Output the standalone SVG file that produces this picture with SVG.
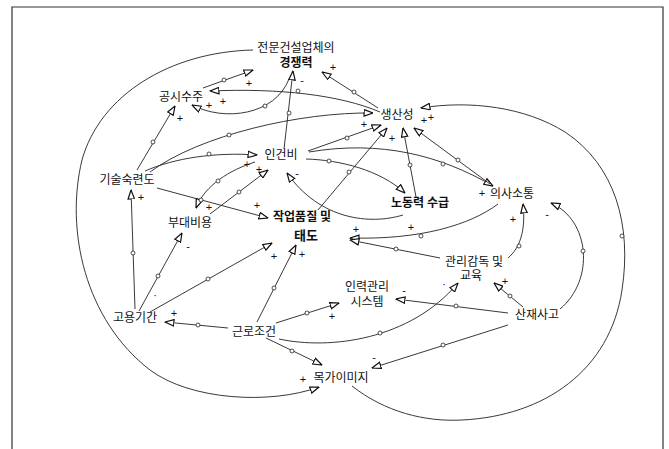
<svg xmlns="http://www.w3.org/2000/svg" width="669" height="449" viewBox="0 0 669 449">
<defs>
<style>
.n{font-family:"Noto Sans CJK KR",sans-serif;font-size:12px;fill:#111;text-anchor:middle}
.b{font-weight:bold}
.c path{fill:none;stroke:#222;stroke-width:0.9;marker-end:url(#a)}
.v{fill:#fff;stroke:#222;stroke-width:0.8}
.s{font-family:"Liberation Sans",sans-serif;font-size:11px;fill:#111;text-anchor:middle}
</style>
<marker id="a" viewBox="0 0 10 8" refX="9.5" refY="4" markerWidth="10" markerHeight="8" markerUnits="userSpaceOnUse" orient="auto">
<path d="M0.6,0.8 L9.5,4 L0.6,7.2 Z" fill="#fff" stroke="#111" stroke-width="1.2"/>
</marker>
</defs>
<rect width="669" height="449" fill="#fff"/>
<path d="M12,449 L12,7 L663,7 L663,449" fill="none" stroke="#333" stroke-width="1.2"/>

<g id="connectors" class="c">
<path d="M253,50 C170,52 100,95 82,160 C65,230 85,320 150,370 C190,400 270,405 319,387"/>
<path d="M352,386 C385,412 425,422 462,420 C545,416 610,370 622,290 C632,225 615,165 565,132 C525,107 470,100 421,108"/>
<path d="M203,88 L253,70"/>
<path d="M289,79 C275,115 225,122 192,105"/>
<path d="M380,112 C340,95 280,88 210,91"/>
<path d="M378,108 L322,72"/>
<path d="M284,149 L293,71"/>
<path d="M137,170 L175,106"/>
<path d="M150,172 C200,135 300,112 373,113"/>
<path d="M145,171 C175,158 215,152 257,155"/>
<path d="M157,188 L268,218"/>
<path d="M255,162 C230,170 205,185 196,208"/>
<path d="M210,214 L268,170"/>
<path d="M403,215 C370,225 320,220 287,173"/>
<path d="M308,151 L381,125"/>
<path d="M306,159 C340,160 380,170 405,193"/>
<path d="M309,152 C380,140 440,155 493,186"/>
<path d="M318,210 L387,128"/>
<path d="M416,197 L403,128"/>
<path d="M490,184 L414,128"/>
<path d="M498,204 C470,225 420,240 350,238"/>
<path d="M440,258 L350,240"/>
<path d="M508,258 C520,248 526,230 523,204"/>
<path d="M560,309 C595,280 590,220 551,203"/>
<path d="M523,307 L494,283"/>
<path d="M508,313 L396,299"/>
<path d="M508,325 L372,368"/>
<path d="M279,339 C330,350 410,340 458,283"/>
<path d="M276,323 L339,303"/>
<path d="M228,328 L165,322"/>
<path d="M257,322 L296,245"/>
<path d="M266,338 L322,365"/>
<path d="M135,309 L131,190"/>
<path d="M139,311 L182,233"/>
<path d="M150,312 L272,243"/>
<g id="valves">
<circle class="v" cx="622" cy="236" r="2"/>
<circle class="v" cx="224" cy="80" r="2"/>
<circle class="v" cx="265" cy="106" r="2"/>
<circle class="v" cx="298" cy="91" r="2"/>
<circle class="v" cx="354" cy="92" r="2"/>
<circle class="v" cx="289" cy="113" r="2"/>
<circle class="v" cx="153" cy="142" r="2"/>
<circle class="v" cx="229" cy="135" r="2"/>
<circle class="v" cx="209" cy="154" r="2"/>
<circle class="v" cx="201" cy="200" r="2"/>
<circle class="v" cx="218" cy="181" r="2"/>
<circle class="v" cx="239" cy="192" r="2"/>
<circle class="v" cx="347" cy="138" r="2"/>
<circle class="v" cx="329" cy="161" r="2"/>
<circle class="v" cx="443" cy="164" r="2"/>
<circle class="v" cx="349" cy="172" r="2"/>
<circle class="v" cx="410" cy="165" r="2"/>
<circle class="v" cx="458" cy="160" r="2"/>
<circle class="v" cx="421" cy="236" r="2"/>
<circle class="v" cx="396" cy="249" r="2"/>
<circle class="v" cx="519" cy="246" r="2"/>
<circle class="v" cx="583" cy="251" r="2"/>
<circle class="v" cx="510" cy="296" r="2"/>
<circle class="v" cx="456" cy="306" r="2"/>
<circle class="v" cx="443" cy="345" r="2"/>
<circle class="v" cx="380" cy="333" r="2"/>
<circle class="v" cx="307" cy="313" r="2"/>
<circle class="v" cx="198" cy="325" r="2"/>
<circle class="v" cx="274" cy="288" r="2"/>
<circle class="v" cx="292" cy="351" r="2"/>
<circle class="v" cx="133" cy="253" r="2"/>
<circle class="v" cx="158" cy="276" r="2"/>
<circle class="v" cx="208" cy="279" r="2"/>
</g>
<g id="polarity">
<text class="s" x="249" y="87">+</text>
<text class="s" x="209" y="109">+</text>
<text class="s" x="223" y="105">+</text>
<text class="s" x="333" y="71">+</text>
<text class="s" x="302" y="84">-</text>
<text class="s" x="180" y="122">+</text>
<text class="s" x="364" y="128">+</text>
<text class="s" x="392" y="142">+</text>
<text class="s" x="424" y="124">+</text>
<text class="s" x="431" y="121">+</text>
<text class="s" x="247" y="168">+</text>
<text class="s" x="259" y="173">+</text>
<text class="s" x="297" y="177">-</text>
<text class="s" x="209" y="211">+</text>
<text class="s" x="257" y="209">+</text>
<text class="s" x="411" y="231">+</text>
<text class="s" x="356" y="233">+</text>
<text class="s" x="482" y="197">+</text>
<text class="s" x="513" y="223">+</text>
<text class="s" x="547" y="218">-</text>
<text class="s" x="505" y="285">+</text>
<text class="s" x="404" y="294">-</text>
<text class="s" x="374" y="361">-</text>
<text class="s" x="444" y="288">·</text>
<text class="s" x="332" y="320">+</text>
<text class="s" x="174" y="317">+</text>
<text class="s" x="302" y="258">+</text>
<text class="s" x="274" y="260">+</text>
<text class="s" x="141" y="201">+</text>
<text class="s" x="188" y="250">-</text>
<text class="s" x="155" y="299">·</text>
<text class="s" x="303" y="383">+</text>
</g>
</g>

<g id="n-competitiveness"><text class="n" x="296" y="52">전문건설업체의<tspan class="b" x="296" y="67">경쟁력</tspan></text></g>
<g id="n-orders"><text class="n" x="181" y="101">공시수주</text></g>
<g id="n-productivity"><text class="n" x="397" y="119">생산성</text></g>
<g id="n-laborcost"><text class="n" x="281" y="159">인건비</text></g>
<g id="n-skill"><text class="n" x="127" y="184">기술숙련도</text></g>
<g id="n-overhead"><text class="n" x="190" y="227">부대비용</text></g>
<g id="n-quality"><text class="n b" x="302" y="221">작업품질 및<tspan x="306" y="240" font-size="13">태도</tspan></text></g>
<g id="n-labor"><text class="n b" x="420" y="207">노동력 수급</text></g>
<g id="n-communication"><text class="n" x="512" y="198">의사소통</text></g>
<g id="n-supervision"><text class="n" x="474" y="266">관리감독 및<tspan x="471" y="280">교육</tspan></text></g>
<g id="n-hrsystem"><text class="n" x="367" y="291">인력관리<tspan x="367" y="306">시스템</tspan></text></g>
<g id="n-accident"><text class="n" x="537" y="319">산재사고</text></g>
<g id="n-employment"><text class="n" x="135" y="322">고용기간</text></g>
<g id="n-conditions"><text class="n" x="254" y="336">근로조건</text></g>
<g id="n-image"><text class="n" x="341" y="382">목가이미지</text></g>
</svg>
